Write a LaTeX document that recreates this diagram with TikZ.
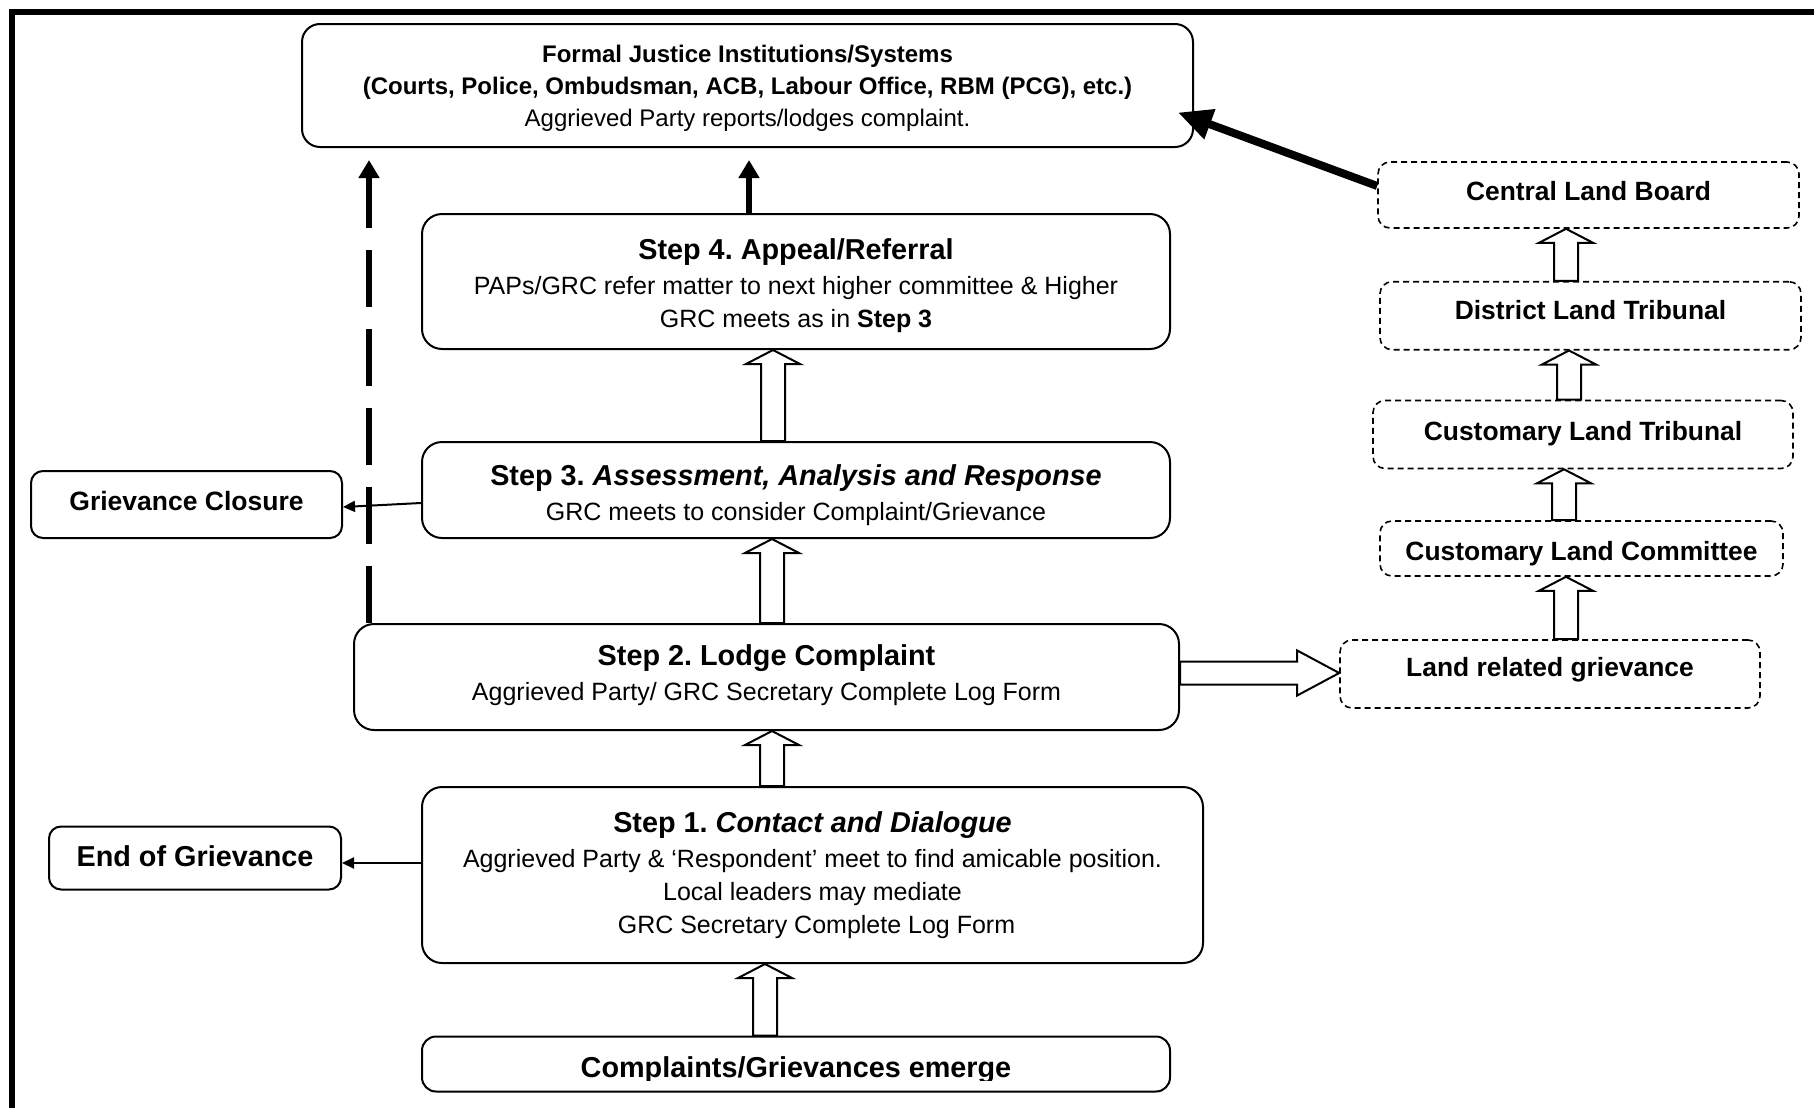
\documentclass[tikz,border=0pt]{standalone}
\usepackage{fontspec}
\setmainfont{Liberation Sans}
\usetikzlibrary{arrows.meta,calc}
\frenchspacing
\newcommand{\titlef}{\fontsize{14.4}{18}\selectfont\bfseries}
\newcommand{\bodyf}{\fontsize{12.5}{16.5}\selectfont}
\newcommand{\topst}[1]{\rule{0pt}{#1}}
\newcommand{\botst}[1]{\rule[-#1]{0pt}{#1}}
\newcommand{\blockup}[3]{%
  \draw[blockarr] let \p1=(#1,0), \p2=(#2.north), \p3=(#3.south) in
   (\x1-6pt,\y2) -- (\x1-6pt,\y3-7pt) -- (\x1-13.5pt,\y3-7pt) -- (\x1,\y3)
   -- (\x1+13.5pt,\y3-7pt) -- (\x1+6pt,\y3-7pt) -- (\x1+6pt,\y2) -- cycle;}
\tikzset{
  stepbox/.style={draw, line width=1pt, rounded corners=10pt, align=center, inner sep=0pt, font=\bodyf},
  sidebox/.style={draw, line width=1pt, rounded corners=6pt, inner sep=0pt, text depth=3pt},
  landbox/.style={draw, line width=0.8pt, dash pattern=on 3pt off 2pt, rounded corners=6pt, inner sep=0pt, text depth=3pt, font=\fontsize{13.2}{16}\selectfont\bfseries},
  blockarr/.style={draw, line width=1pt, fill=white, line join=miter},
  thinarr/.style={line width=1pt, -{Triangle[length=6pt,width=5.5pt]}},
  thickarr/.style={line width=3pt, -{Triangle[length=9pt,width=10pt]}},
}
\begin{document}
\begin{tikzpicture}[x=0.5pt,y=-0.5pt]
\useasboundingbox (0,0) rectangle (1814,1108);
\draw[line width=3pt] (12,1108) -- (12,12) -- (1814,12);

% main column
\node[stepbox, rounded corners=9pt, minimum width=445.5pt, minimum height=61.5pt, font=\fontsize{12}{16}\selectfont] (fj) at (747.5,85.5)
  {\topst{11.5pt}\textbf{Formal Justice Institutions/Systems}\\ \textbf{(Courts, Police, Ombudsman, ACB, Labour Office, RBM (PCG), etc.)}\\ Aggrieved Party reports/lodges complaint.\botst{3pt}};
\node[stepbox, minimum width=374pt, minimum height=67.5pt] (s4) at (796,281.5)
  {\topst{14.5pt}{\titlef Step 4. Appeal/Referral}\\[1pt] PAPs/GRC refer matter to next higher committee \& Higher\\ GRC meets as in \textbf{Step 3}\botst{3pt}};
\node[stepbox, minimum width=374pt, minimum height=48pt] (s3) at (796,490)
  {\topst{15.5pt}{\titlef Step 3. \textit{Assessment, Analysis and Response}}\\[1pt] GRC meets to consider Complaint/Grievance\botst{3pt}};
\node[stepbox, minimum width=412.5pt, minimum height=53pt] (s2) at (766.5,677)
  {\topst{11pt}{\titlef Step 2. Lodge Complaint}\\[1pt] Aggrieved Party/ GRC Secretary Complete Log Form\botst{5.5pt}};
\node[stepbox, minimum width=390.5pt, minimum height=88pt] (s1) at (812.5,875)
  {\topst{11pt}{\titlef Step 1. \textit{Contact and Dialogue}}\\[1pt] Aggrieved Party \& ‘Respondent’ meet to find amicable position.\\ Local leaders may mediate\\ \hspace*{4pt}GRC Secretary Complete Log Form\botst{3.5pt}};
\node[stepbox, rounded corners=7pt, minimum width=374pt, minimum height=27.5pt] (cg) at (796,1064) {};
\begin{scope}
  \clip (400,1030) rectangle (1200,1080);
  \node[anchor=base, inner sep=0pt, font=\titlef] (cgt) at (796,1077) {Complaints/Grievances emerge};
\end{scope}

% side boxes
\node[sidebox, minimum width=155.5pt, minimum height=33.5pt, text height=8.5pt, font=\fontsize{13.25}{16}\selectfont\bfseries] (gc) at (186.5,504.5) {Grievance Closure};
\node[sidebox, minimum width=146pt, minimum height=31.5pt, text height=11pt, font=\fontsize{14.4}{17}\selectfont\bfseries] (eog) at (195,858) {End of Grievance};

% land column
\node[landbox, minimum width=210.5pt, minimum height=33pt, text height=8.7pt] (clb) at (1588.5,195) {Central Land Board};
\node[landbox, minimum width=210.5pt, minimum height=34pt, text height=6.3pt] (dlt) at (1590.5,315.7) {District Land Tribunal};
\node[landbox, minimum width=210pt, minimum height=34pt, text height=9.2pt] (clt) at (1583,434.5) {Customary Land Tribunal};
\node[landbox, minimum width=201.5pt, minimum height=27.5pt, text height=14.5pt] (clc) at (1581.5,548.5) {Customary Land Committee};
\node[landbox, minimum width=210pt, minimum height=34pt, text height=5pt] (lrg) at (1550,674) {Land related grievance};

% hollow block arrows
\blockup{765}{cg}{s1}
\blockup{772}{s1}{s2}
\blockup{772}{s2}{s3}
\blockup{773}{s3}{s4}
\blockup{1566}{lrg}{clc}
\blockup{1564}{clc}{clt}
\blockup{1569}{clt}{dlt}
\blockup{1566}{dlt}{clb}
\draw[blockarr] let \p1=(s2.east), \p2=(lrg.west), \p3=(0,673) in
  (\x1,\y3+5.75pt) -- (\x2-21pt,\y3+5.75pt) -- (\x2-21pt,\y3+11.25pt) -- (\x2,\y3)
  -- (\x2-21pt,\y3-11.25pt) -- (\x2-21pt,\y3-5.75pt) -- (\x1,\y3-5.75pt) -- cycle;

% line arrows
\coordinate (dx) at (369,0);
\coordinate (ax) at (749,0);
\draw[thickarr, dash pattern=on 28.5pt off 11pt, shorten >=6pt] (s2.north -| dx) -- (fj.south -| dx);
\draw[thickarr, shorten >=6pt] (s4.north -| ax) -- (fj.south -| ax);
\draw[line width=4pt, -{Triangle[length=17pt,width=15pt]}] ($(clb.west)+(0,-9)$) -- ($(fj.east)+(-16,27)$);
\draw[thinarr] ($(s3.west)+(0,13)$) -- ($(gc.east)+(0,2.5)$);
\draw[thinarr] ($(s1.west)+(0,-12)$) -- ($(eog.east)+(0,5)$);
\end{tikzpicture}
\end{document}
